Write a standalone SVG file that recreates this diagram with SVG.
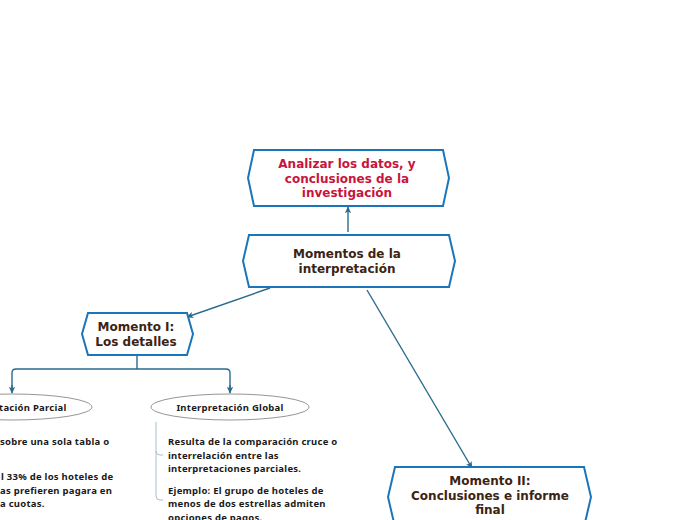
<svg xmlns="http://www.w3.org/2000/svg" width="696" height="520" viewBox="0 0 696 520">
<style>
.hex{fill:#ffffff;stroke:#1b75bb;stroke-width:2;stroke-linejoin:miter}
.t{font-family:"DejaVu Sans",Verdana,sans-serif;font-weight:bold;font-size:12px;text-anchor:middle;fill:#3c2415}
.red{fill:#c8143c}
.s{font-family:"Noto Sans","Open Sans",sans-serif;font-weight:bold;font-size:9.5px;letter-spacing:0.25px;fill:#1a1a1a}
.sm{text-anchor:middle}
.con{fill:none;stroke:#2a6a8e;stroke-width:1.4}
.br{fill:none;stroke:#aabfcb;stroke-width:1}
.ell{fill:#ffffff;stroke:#7a7a7a;stroke-width:0.8}
</style>
<defs>
<marker id="ah" viewBox="0 0 10 10" refX="9" refY="5" markerWidth="7" markerHeight="7" orient="auto" markerUnits="userSpaceOnUse">
<path d="M0,0.5 L10,5 L0,9.5 L2.5,5 Z" fill="#2a6a8e"/>
</marker>
</defs>
<rect width="696" height="520" fill="#ffffff"/>
<g id="connectors">
<line class="con" x1="348" y1="232" x2="348" y2="207" marker-end="url(#ah)"/>
<line class="con" x1="270" y1="288" x2="187" y2="317" marker-end="url(#ah)"/>
<line class="con" x1="367" y1="290" x2="472" y2="468" marker-end="url(#ah)"/>
<path class="con" d="M137,355 V369 M16,369 H226 M12,392 V373 Q12,369 16,369 M226,369 Q230,369 230,373 V392" />
<line class="con" x1="12" y1="385" x2="12" y2="393" marker-end="url(#ah)"/>
<line class="con" x1="230" y1="385" x2="230" y2="393" marker-end="url(#ah)"/>
</g>
<g id="n-analizar">
<polygon class="hex" points="254,150 443,150 449,178 443,206 254,206 248,178"/>
<text class="t red" x="347" y="168">Analizar los datos, y</text>
<text class="t red" x="347" y="182.5">conclusiones de la</text>
<text class="t red" x="347" y="196.5">investigación</text>
</g>
<g id="n-momentos">
<polygon class="hex" points="249,235 449,235 455,261 449,287 249,287 243,261"/>
<text class="t" x="347" y="258">Momentos de la</text>
<text class="t" x="347" y="272.5">interpretación</text>
</g>
<g id="n-momento1">
<polygon class="hex" points="88,313 187,313 193,334 187,355 88,355 82,334"/>
<text class="t" x="136" y="330.5">Momento I:</text>
<text class="t" x="136" y="345.5">Los detalles</text>
</g>
<g id="n-momento2">
<polygon class="hex" points="395,467 584,467 591,497 584,527 395,527 388,497"/>
<text class="t" x="490" y="485">Momento II:</text>
<text class="t" x="490" y="499.5">Conclusiones e informe</text>
<text class="t" x="490" y="514">final</text>
</g>
<g id="n-parcial">
<ellipse class="ell" cx="12" cy="407" rx="80" ry="13"/>
<text class="s sm" x="12" y="410.5">Interpretación Parcial</text>
</g>
<g id="n-parcial-texto">
<text class="s" x="0" y="445">sobre una sola tabla o</text>
<text class="s" x="1" y="479.5">l 33% de los hoteles de</text>
<text class="s" x="0" y="493.5">as prefieren pagara en</text>
<text class="s" x="0" y="506.5">a cuotas.</text>
</g>
<g id="n-global">
<ellipse class="ell" cx="230" cy="407" rx="79" ry="13"/>
<text class="s sm" x="230" y="410.5">Interpretación Global</text>
</g>
<g id="n-global-texto">
<path class="br" d="M156,422 V451 Q156,455 160,455 H163 M156,451 V496 Q156,500 160,500 H163"/>
<text class="s" x="168" y="445">Resulta de la comparación cruce o</text>
<text class="s" x="168" y="458.5">interrelación entre las</text>
<text class="s" x="168" y="472">interpretaciones parciales.</text>
<text class="s" x="168" y="493.5">Ejemplo: El grupo de hoteles de</text>
<text class="s" x="168" y="507">menos de dos estrellas admiten</text>
<text class="s" x="168" y="520.5">opciones de pagos.</text>
</g>
</svg>
